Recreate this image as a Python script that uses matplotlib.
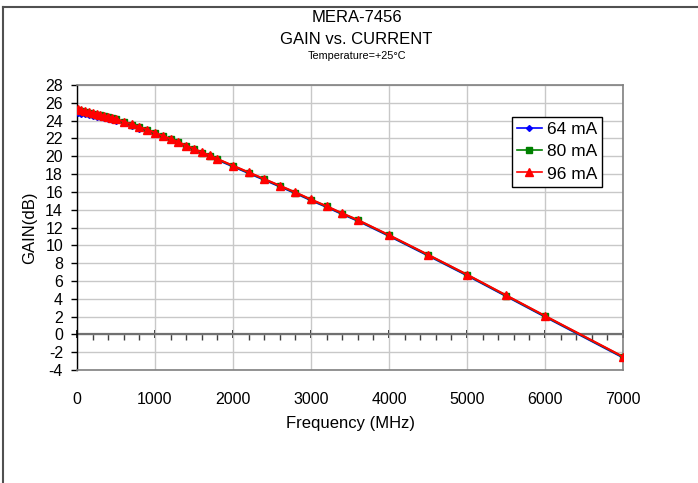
import matplotlib
matplotlib.use("Agg")
import matplotlib.pyplot as plt
from matplotlib.lines import Line2D

plt.rcParams['font.family'] = ['Liberation Sans', 'DejaVu Sans']
plt.rcParams['axes.unicode_minus'] = False

freq = [10, 50, 100, 150, 200, 250, 300, 350, 400, 450, 500, 600, 700, 800, 900,
        1000, 1100, 1200, 1300, 1400, 1500, 1600, 1700, 1800, 2000, 2200, 2400,
        2600, 2800, 3000, 3200, 3400, 3600, 4000, 4500, 5000, 5500, 6000, 7000]
gain_96 = [25.25, 25.15, 25.05, 24.95, 24.85, 24.75, 24.65, 24.55, 24.45, 24.32, 24.2,
           23.9, 23.6, 23.3, 23.0, 22.65, 22.3, 21.95, 21.6, 21.2, 20.85, 20.45, 20.1,
           19.7, 18.95, 18.2, 17.45, 16.7, 15.95, 15.15, 14.4, 13.6, 12.85, 11.15, 8.95,
           6.72, 4.4, 2.08, -2.5]
gain_80 = [25.15, 25.07, 24.98, 24.88, 24.78, 24.68, 24.58, 24.48, 24.38, 24.26, 24.14,
           23.85, 23.55, 23.25, 22.95, 22.6, 22.25, 21.9, 21.55, 21.16, 20.81, 20.41,
           20.06, 19.66, 18.91, 18.16, 17.41, 16.66, 15.91, 15.11, 14.36, 13.56, 12.81,
           11.11, 8.91, 6.68, 4.36, 2.04, -2.54]
gain_64 = [24.85, 24.8, 24.72, 24.64, 24.55, 24.46, 24.37, 24.28, 24.19, 24.07, 23.96,
           23.68, 23.4, 23.11, 22.82, 22.48, 22.14, 21.8, 21.46, 21.07, 20.73, 20.34,
           19.99, 19.6, 18.85, 18.1, 17.35, 16.6, 15.85, 15.05, 14.3, 13.5, 12.75,
           11.05, 8.85, 6.62, 4.3, 1.98, -2.6]
series_labels = ['64 mA', '80 mA', '96 mA']
x_ticks = [0, 1000, 2000, 3000, 4000, 5000, 6000, 7000]
y_ticks = list(range(-4, 29, 2))

fig = plt.figure(figsize=(6.98, 4.83), dpi=100)
ax = fig.add_axes([77/698, 1 - 370/483, 546/698, 285/483])

ax.set_xlim(0, 7000)
ax.set_ylim(-4, 28)
ax.set_xticks(x_ticks)
ax.set_yticks(y_ticks)
ax.grid(True, color='#c8c8c8', linewidth=1.0)
ax.set_axisbelow(True)

for s in ['top', 'right', 'bottom']:
    ax.spines[s].set_color('#808080')
    ax.spines[s].set_linewidth(1.2)
ax.spines['left'].set_color('#000000')
ax.spines['left'].set_linewidth(1.0)

ax.tick_params(axis='x', length=0, pad=16, labelsize=11.5)
ax.tick_params(axis='y', direction='out', length=4, width=1, pad=6, labelsize=11.5)

# x axis crossing at 0
ax.axhline(0, color='#707070', linewidth=1.6, zorder=2)
sec = ax.secondary_xaxis(0.125)
sec.set_xticks(range(0, 7001, 1000))
sec.set_xticks(range(0, 7001, 200), minor=True)
sec.tick_params(which='major', direction='inout', length=6, width=1.2, labelbottom=False, labeltop=False)
sec.tick_params(which='minor', direction='out', length=4, width=1, color='#404040')
sec.spines['bottom'].set_visible(False)
sec.spines['top'].set_visible(False)

ax.plot(freq, gain_64, color='#0000ff', marker='D', markersize=3, linewidth=1.5,
        label=series_labels[0], zorder=3)
ax.plot(freq, gain_80, color='#008000', marker='s', markersize=4, linewidth=1.5,
        label=series_labels[1], zorder=4)
ax.plot(freq, gain_96, color='#ff0000', marker='^', markersize=6, linewidth=1.5,
        label=series_labels[2], zorder=5)

leg = ax.legend(loc='upper left', bbox_to_anchor=((512-77)/546, (370-117)/285),
                fontsize=12.5, frameon=True, fancybox=False, framealpha=1,
                edgecolor='#000000', handlelength=1.4, handletextpad=0.3,
                borderpad=0.3, labelspacing=0.4, borderaxespad=0)
leg.get_frame().set_linewidth(1.0)
for h in leg.get_lines():
    h.set_linewidth(1.2)

ax.set_xlabel('Frequency (MHz)', fontsize=12, labelpad=6)
ax.set_ylabel('GAIN(dB)', fontsize=12, labelpad=6)

fig.text(0.511, 1 - 17/483, 'MERA-7456', ha='center', va='center', fontsize=12)
fig.text(0.511, 1 - 39/483, 'GAIN vs. CURRENT', ha='center', va='center', fontsize=12)
fig.text(0.511, 1 - 56/483, 'Temperature=+25°C', ha='center', va='center', fontsize=7.8)

# chart area border (top and left visible)
fig.add_artist(Line2D([2.5/698, 2.5/698], [0, 1 - 6.5/483], transform=fig.transFigure,
                      color='#505050', linewidth=1.5))
fig.add_artist(Line2D([2.5/698, 1], [1 - 6.5/483, 1 - 6.5/483], transform=fig.transFigure,
                      color='#505050', linewidth=1.5))

fig.savefig('out.png', dpi=100)
